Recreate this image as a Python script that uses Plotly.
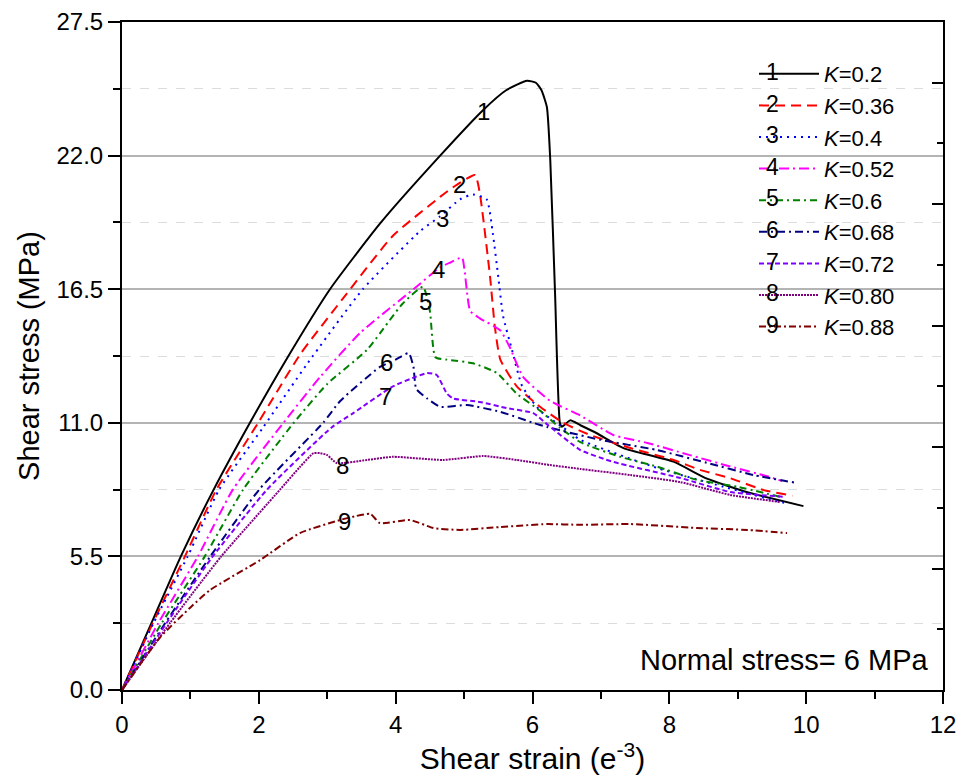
import plotly.graph_objects as go

# ---------------- data ----------------
labels = ["K=0.2", "K=0.36", "K=0.4", "K=0.52", "K=0.6", "K=0.68", "K=0.72", "K=0.80", "K=0.88"]
curve_ids = ["1", "2", "3", "4", "5", "6", "7", "8", "9"]

x1 = [0, 0.43, 0.86, 1.34, 1.87, 2.4, 3.04, 3.77, 4.65, 5.28, 5.62, 5.92, 6.05, 6.13, 6.21, 6.26, 6.33, 6.40, 6.43, 6.55, 6.70, 6.94, 7.33, 8.06, 8.55, 9.13, 9.96]
y1 = [0, 2.75, 5.5, 8.25, 11.0, 13.6, 16.5, 19.2, 22.0, 23.88, 24.7, 25.08, 25.0, 24.7, 24.0, 21.8, 16.3, 11.0, 10.84, 11.1, 10.9, 10.57, 9.96, 9.4, 8.7, 8.15, 7.57]

x2 = [0, 0.45, 0.92, 1.38, 1.99, 2.6, 3.28, 3.96, 4.65, 4.84, 5.16, 5.23, 5.38, 5.45, 5.53, 5.77, 6.11, 6.45, 6.84, 7.43, 8.06, 8.45, 8.89, 9.38, 9.8]
y2 = [0, 2.75, 5.5, 8.25, 11.0, 13.8, 16.3, 18.7, 20.3, 20.7, 21.2, 20.45, 17.0, 14.95, 13.6, 12.5, 11.66, 11.0, 10.5, 9.96, 9.47, 9.06, 8.72, 8.23, 8.0]

x3 = [0, 0.46, 0.96, 1.42, 2.06, 2.7, 3.52, 4.36, 4.65, 4.94, 5.13, 5.33, 5.42, 5.50, 5.57, 5.70, 5.85, 6.11, 6.45, 6.70, 7.82, 8.79, 9.62, 9.7]
y3 = [0, 2.75, 5.5, 8.25, 10.8, 13.4, 16.5, 18.9, 19.5, 20.2, 20.4, 20.2, 18.8, 17.0, 15.4, 14.0, 12.5, 11.5, 10.8, 10.3, 9.14, 8.37, 7.74, 7.7]

x4 = [0, 0.53, 1.11, 1.62, 2.36, 2.9, 3.48, 4.26, 4.65, 4.80, 4.97, 5.01, 5.09, 5.23, 5.53, 5.67, 5.86, 6.26, 6.70, 7.18, 7.68, 8.30, 8.89, 9.43, 9.65]
y4 = [0, 2.75, 5.5, 8.25, 11.0, 12.9, 14.7, 16.5, 17.4, 17.6, 17.8, 17.2, 15.6, 15.3, 14.8, 14.1, 12.9, 11.9, 11.3, 10.5, 10.17, 9.67, 9.2, 8.8, 8.6]

x5 = [0, 0.58, 1.21, 1.77, 2.51, 3.0, 3.58, 4.1, 4.40, 4.5, 4.58, 4.75, 5.13, 5.48, 5.77, 6.11, 6.4, 6.7, 7.28, 7.82, 8.4, 8.99, 9.62]
y5 = [0, 2.75, 5.5, 8.25, 11.0, 12.6, 14.0, 15.9, 16.6, 15.6, 13.7, 13.6, 13.45, 13.05, 12.2, 11.5, 10.8, 10.2, 9.6, 9.2, 8.65, 8.37, 7.95]

x6 = [0, 0.63, 1.29, 2.02, 2.94, 3.19, 3.77, 4.0, 4.19, 4.26, 4.30, 4.46, 4.65, 5.04, 5.53, 6.01, 6.21, 6.99, 7.82, 8.55, 9.23, 9.87]
y6 = [0, 2.75, 5.5, 8.3, 11.0, 11.9, 13.3, 13.6, 13.87, 13.3, 12.4, 12.0, 11.66, 11.73, 11.45, 11.0, 10.83, 10.3, 9.88, 9.35, 8.85, 8.52]

x7 = [0, 0.65, 1.3, 2.12, 3.06, 3.38, 3.96, 4.3, 4.46, 4.6, 4.75, 4.84, 5.23, 5.63, 6.01, 6.23, 6.70, 7.18, 8.16, 8.89, 9.7]
y7 = [0, 2.75, 5.4, 8.25, 10.8, 11.4, 12.5, 12.9, 13.05, 12.97, 12.2, 12.0, 11.86, 11.6, 11.4, 10.9, 9.88, 9.39, 8.73, 8.15, 7.95]

x8 = [0, 0.7, 1.45, 2.31, 2.6, 2.8, 2.9, 3.0, 3.14, 3.58, 3.96, 4.69, 5.28, 5.77, 6.26, 6.7, 7.43, 8.16, 8.89, 9.62]
y8 = [0, 2.75, 5.5, 8.25, 9.18, 9.75, 9.75, 9.67, 9.34, 9.47, 9.6, 9.47, 9.63, 9.47, 9.26, 9.1, 8.85, 8.56, 8.03, 7.74]

x9 = [0, 0.3, 0.56, 1.0, 1.29, 2.02, 2.6, 3.19, 3.4, 3.63, 3.77, 4.21, 4.55, 4.94, 5.53, 6.21, 6.7, 7.43, 8.4, 9.14, 9.72]
y9 = [0, 1.2, 2.18, 3.4, 4.12, 5.35, 6.46, 7.0, 7.15, 7.25, 6.87, 7.0, 6.67, 6.59, 6.71, 6.83, 6.8, 6.83, 6.67, 6.59, 6.46]

xs = [x1, x2, x3, x4, x5, x6, x7, x8, x9]
ys = [y1, y2, y3, y4, y5, y6, y7, y8, y9]

# label positions for the curve numbers (data coords)
label_x = [5.28, 4.94, 4.68, 4.62, 4.44, 3.87, 3.85, 3.22, 3.25]
label_y = [23.8, 20.8, 19.4, 17.3, 16.0, 13.5, 12.1, 9.26, 6.92]

y_ticks = [0, 5.5, 11.0, 16.5, 22.0, 27.5]
x_ticks = [0, 2, 4, 6, 8, 10, 12]

# ---------------- styles ----------------
colors = ["#000000", "#ff0000", "#0000ff", "#ff00ff", "#008000", "#000080", "#7f00ff", "#800080", "#800000"]
dashes = ["solid", "10px,6px", "2px,5px", "10px,4px,2px,4px", "7px,4px,2px,4px",
          "8px,4px,2px,4px", "5px,3px", "2px,1px", "7px,3px,2px,3px"]

FONT = "Liberation Sans, Arial, sans-serif"

fig = go.Figure()
for i in range(9):
    fig.add_trace(go.Scatter(
        x=xs[i], y=ys[i], mode="lines",
        name="<i>K</i>=" + labels[i].split("=")[1],
        line=dict(color=colors[i], width=2, dash=dashes[i], shape="spline", smoothing=0.5),
    ))

# dummy axis for right-side inward ticks
fig.add_trace(go.Scatter(x=[None], y=[None], yaxis="y2", showlegend=False, hoverinfo="skip"))

for i in range(9):
    fig.add_annotation(x=label_x[i], y=label_y[i], text=curve_ids[i], showarrow=False,
                       xanchor="center", yanchor="middle",
                       font=dict(family=FONT, size=24, color="black"))

# numbers over legend samples
leg_top = (690 - 72) / 668
leg_step = 31.6 / 668
for i in range(9):
    fig.add_annotation(xref="paper", yref="paper", x=(772 - 122) / 821, y=leg_top - i * leg_step,
                       text=curve_ids[i], showarrow=False, xanchor="center", yanchor="middle",
                       font=dict(family=FONT, size=23, color="black"))

fig.add_annotation(xref="paper", yref="paper", x=(931 - 122) / 821, y=(690 - 660) / 668,
                   xanchor="right", yanchor="middle",
                   text="Normal stress= 6 MPa", showarrow=False,
                   font=dict(family=FONT, size=29, color="black"))

fig.update_layout(
    width=961, height=783,
    margin=dict(l=122, r=18, t=22, b=93),
    paper_bgcolor="white", plot_bgcolor="white",
    font=dict(family=FONT, size=24, color="black"),
    showlegend=True,
    legend=dict(x=(754 - 122) / 821, y=(690 - 53) / 668, xanchor="left", yanchor="top",
                bgcolor="rgba(0,0,0,0)", borderwidth=0,
                font=dict(family=FONT, size=22, color="black"),
                itemwidth=60),
    xaxis=dict(
        range=[0, 12], tickvals=x_ticks, ticktext=[str(v) for v in x_ticks],
        showline=True, linecolor="black", linewidth=2, mirror=True,
        ticks="outside", ticklen=12, tickwidth=2, tickcolor="black",
        minor=dict(dtick=1, tick0=0, ticks="outside", ticklen=7, tickwidth=2, tickcolor="black"),
        showgrid=False, zeroline=False, automargin=False,
        tickfont=dict(family=FONT, size=24),
        title=dict(text="Shear strain (e<sup>-3</sup>)", font=dict(family=FONT, size=30), standoff=4),
    ),
    yaxis=dict(
        range=[0, 27.5], tickvals=y_ticks, ticktext=["%.1f" % v for v in y_ticks],
        showline=True, linecolor="black", linewidth=2,
        ticks="outside", ticklen=12, tickwidth=2, tickcolor="black",
        minor=dict(dtick=2.75, tick0=0, ticks="outside", ticklen=7, tickwidth=2, tickcolor="black",
                   showgrid=True, gridcolor="#dcdcdc", griddash="dash", gridwidth=1),
        showgrid=True, gridcolor="#b4b4b4", gridwidth=1.5, zeroline=False, automargin=False,
        tickfont=dict(family=FONT, size=24),
        title=dict(text="Shear stress (MPa)", font=dict(family=FONT, size=29), standoff=8),
    ),
    yaxis2=dict(
        range=[0, 27.5], overlaying="y", side="right",
        tickvals=[5, 10, 15, 20, 25], showticklabels=False,
        ticks="inside", ticklen=11, tickwidth=2, tickcolor="black",
        minor=dict(tickvals=[2.5, 7.5, 12.5, 17.5, 22.5], ticks="inside", ticklen=6, tickwidth=2, tickcolor="black"),
        showline=True, linecolor="black", linewidth=2, automargin=False,
        showgrid=False, zeroline=False,
    ),
)

fig.write_html("out.html")
